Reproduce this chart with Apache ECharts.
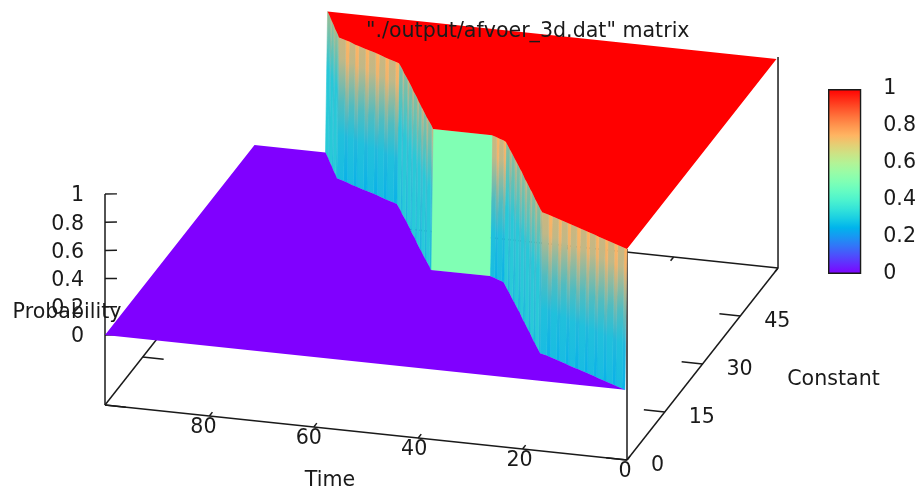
<!DOCTYPE html>
<html>
<head>
<meta charset="utf-8">
<style>html,body{margin:0;padding:0;background:#fff}#c{width:919px;height:491px}</style>
<script src="https://cdn.jsdelivr.net/npm/echarts@6/dist/echarts.min.js"></script>
</head>
<body>
<div id="c"></div>
<script>
// ---- chart values ----
const chartTitle = '"./output/afvoer_3d.dat" matrix';
const timeTicks = [0, 20, 40, 60, 80];
const constantTicks = [0, 15, 30, 45];
const probabilityTicks = [0, 0.2, 0.4, 0.6, 0.8, 1];
const timeMax = 100, constantMax = 60, surfaceConstantMax = 59.4, stepTime = 0.4;

// Where the surface jumps from 0 to 1: (Time, Constant) along the wall, section by section
const timeA = [0.4,1.1,2.6,3.4,4.9,5.6,7.1,7.8,9.3,10.0,11.5,12.3,13.8,14.5,16.0,16.7,18.2,19.0,20.5];
const constantA = [0,0.3,0.9,1.2,1.8,2.1,2.7,3.0,3.6,3.9,4.5,4.8,5.4,5.7,6.3,6.6,7.2,7.5,8.0];
const timeB = [20.5,21.3,22.8,23.6,25.1,25.9,27.4,28.2,29.7,30.5,32.0,32.8,34.3,35.1,36.7];
const constantB = [8,8.9,10.7,11.6,13.5,14.4,16.2,17.1,19,19.9,21.7,22.6,24.4,25.3,27.2];
const timeC = [36.7,37.3,38.4,39,40.1];
const constantC = [27.2,27.6,28,28.3,28.7];
const timeD = [40.1,51.4];
const constantD = [28.7,28.7];
const timeE = [51.4,52.1,53.6,54.3,55.7,56.5,57.9,58.6,60.1,60.8,62.2,62.9,64.4,65.1,66.6];
const constantE = [28.7,29.6,31.3,32.1,33.8,34.7,36.4,37.3,39,39.9,41.6,42.4,44.1,45,46.7];
const timeF = [66.6,67.4,69,69.8,71.3,72.1,73.7,74.5,76.1,76.9,78.4,79.2,80.8];
const constantF = [46.7,47,47.6,47.9,48.6,48.9,49.5,49.8,50.4,50.7,51.4,51.7,52.3];
const timeG = [80.8,81.4,82.7,83.3,84.5,85.1,86.4];
const constantG = [52.3,53.1,54.7,55.5,57,57.8,59.4];

// ---- styles ----
const FONT = '20.6px "DejaVu Sans"';
const INK = '#1a1a1a';
const palette = x => {
  const cl = v => Math.round(255 * Math.max(0, Math.min(1, v)));
  return 'rgb(' + cl(Math.abs(2 * x - 0.5)) + ',' + cl(Math.sin(Math.PI * x)) + ',' + cl(Math.cos(Math.PI * x / 2)) + ')';
};
const shallowShade = [
  [[0, '#ffb462'], [0.15, '#f0b46c'], [0.45, '#78b8ac'], [0.68, '#22b8dc'], [1, '#08b2e9']],
  [[0, '#cdb67e'], [0.15, '#c0b888'], [0.45, '#50bcc0'], [0.68, '#20c0dc'], [1, '#18bce2']]
];
const steepShade = [
  [[0, '#d0b47c'], [0.45, '#40bcd0'], [1, '#18b8e0']],
  [[0, '#90bc9a'], [0.45, '#28c8d8'], [1, '#28cad8']]
];
const endShade = [
  [[0, '#c8b880'], [0.4, '#40c0d0'], [1, '#20c0dc']],
  [[0, '#a0bc90'], [0.4, '#28c8d8'], [1, '#28cad8']]
];
const flatShade = [[[0, palette(0.5)], [1, palette(0.5)]]];

const sections = [
  [timeA, constantA, shallowShade], [timeB, constantB, steepShade], [timeC, constantC, shallowShade],
  [timeD, constantD, flatShade], [timeE, constantE, steepShade], [timeF, constantF, shallowShade],
  [timeG, constantG, endShade]
];

// ---- view: data space to plane ----
const floorZ = -0.496;
const project = (t, c, z) => [627 - 5.22 * t + 2.517 * c, 390 - 0.55 * t - 3.2 * c - 141 * z];

// ---- tables built from the arrays ----
const lines = [];
const addLine = (a, b) => lines.push([a, b]);
addLine([0, 0, floorZ], [timeMax, 0, floorZ]);
addLine([0, constantMax, floorZ], [timeMax, constantMax, floorZ]);
addLine([0, 0, floorZ], [0, constantMax, floorZ]);
addLine([timeMax, 0, floorZ], [timeMax, constantMax, floorZ]);
addLine([0, 0, floorZ], [0, 0, 1]);
addLine([timeMax, 0, floorZ], [timeMax, 0, 1]);
addLine([0, constantMax, floorZ], [0, constantMax, 1]);
timeTicks.forEach(t => {
  addLine([t, 0, floorZ], [t, 1.2, floorZ]);
  addLine([t, constantMax, floorZ], [t, constantMax - 1.2, floorZ]);
});
constantTicks.forEach(c => {
  addLine([0, c, floorZ], [4, c, floorZ]);
  addLine([timeMax, c, floorZ], [timeMax - 4, c, floorZ]);
});
probabilityTicks.forEach(p => addLine([timeMax, 0, p], [timeMax - 2.1, 0.4, p]));

const stripes = [];
sections.forEach(([ts, cs, shade]) => {
  for (let i = 0; i + 1 < ts.length; i++) {
    stripes.push({ t0: ts[i], c0: cs[i], t1: ts[i + 1], c1: cs[i + 1], stops: shade[i % shade.length] });
  }
});

const wallTime = [].concat(timeA, timeB.slice(1), timeC.slice(1), timeD.slice(1), timeE.slice(1), timeF.slice(1), timeG.slice(1));
const wallConstant = [].concat(constantA, constantB.slice(1), constantC.slice(1), constantD.slice(1), constantE.slice(1), constantF.slice(1), constantG.slice(1));
const floorOutline = [[timeMax, 0], ...wallTime.map((t, i) => [t, wallConstant[i]]), [timeMax, surfaceConstantMax]];
const topOutline = [...wallTime.map((t, i) => [t - stepTime, wallConstant[i]]), [0, surfaceConstantMax]];

const texts = [];
timeTicks.forEach(t => { const p = project(t, 0, floorZ); texts.push({ x: p[0] - 2 - t * 0.05, y: p[1] + 11.5, text: String(t), align: 'center' }); });
constantTicks.forEach(c => { const p = project(0, c, floorZ); texts.push({ x: p[0] + 24, y: p[1] + 6, text: String(c), align: 'left' }); });
probabilityTicks.forEach(v => { const p = project(timeMax, 0, v); texts.push({ x: p[0] - 21, y: p[1] + 2, text: String(v), align: 'right' }); });
texts.push({ x: 67, y: 312.5, text: 'Probability', align: 'center' });
texts.push({ x: 330, y: 480.5, text: 'Time', align: 'center' });
texts.push({ x: 833.5, y: 379.5, text: 'Constant', align: 'center' });

// ---- helpers ----
const plane = (api, t, c, z) => { const p = project(t, c, z); return api.coord([p[0], p[1]]); };
const rows = table => table.map((_, i) => [i, 0]);
const base = { type: 'custom', xAxisIndex: 0, yAxisIndex: 0, silent: true, clip: false };

const chart = echarts.init(document.getElementById('c'), null, { renderer: 'canvas' });
chart.setOption({
  animation: false,
  title: { text: chartTitle, left: 366, top: 21, padding: 0, textStyle: { fontFamily: 'DejaVu Sans', fontSize: 20.6, fontWeight: 'normal', color: INK } },
  grid: [
    { left: 0, top: 0, right: 0, bottom: 0 },
    { left: 828, top: 89, width: 36.5, height: 185 }
  ],
  xAxis: [
    { type: 'value', gridIndex: 0, min: 0, max: 919, show: false },
    { type: 'category', gridIndex: 1, data: ['cb'], show: false }
  ],
  yAxis: [
    { type: 'value', gridIndex: 0, min: 0, max: 491, inverse: true, show: false },
    { type: 'value', gridIndex: 1, min: 0, max: 1, interval: 0.2, position: 'right', splitLine: { show: false },
      axisLine: { show: false }, axisTick: { inside: true, length: 12, lineStyle: { color: INK, width: 1.4 } },
      axisLabel: { margin: 22, fontFamily: 'DejaVu Sans', fontSize: 20.6, color: INK } },
    { type: 'value', gridIndex: 1, min: 0, max: 1, interval: 0.2, position: 'left', splitLine: { show: false },
      axisLine: { show: false }, axisTick: { inside: true, length: 12, lineStyle: { color: INK, width: 1.4 } },
      axisLabel: { show: false } }
  ],
  series: [
    Object.assign({}, base, { data: rows(lines), z: 1, renderItem(params, api) {
      const l = lines[api.value(0)];
      const a = plane(api, ...l[0]), b = plane(api, ...l[1]);
      return { type: 'line', shape: { x1: a[0], y1: a[1], x2: b[0], y2: b[1] }, style: { stroke: INK, lineWidth: 1.5 } };
    } }),
    Object.assign({}, base, { data: rows(stripes), z: 2, renderItem(params, api) {
      const s = stripes[api.value(0)];
      const pts = [plane(api, s.t0, s.c0, 0), plane(api, s.t1, s.c1, 0), plane(api, s.t1 - stepTime, s.c1, 1), plane(api, s.t0 - stepTime, s.c0, 1)];
      const grad = new echarts.graphic.LinearGradient(0, 0, 0, 1, s.stops.map(d => ({ offset: d[0], color: d[1] })));
      return { type: 'polygon', shape: { points: pts }, style: { fill: grad, stroke: grad, lineWidth: 0.6 } };
    } }),
    Object.assign({}, base, { data: [[0, 0]], z: 3, renderItem(params, api) {
      return { type: 'polygon', shape: { points: floorOutline.map(p => plane(api, p[0], p[1], 0)) }, style: { fill: palette(0) } };
    } }),
    Object.assign({}, base, { data: [[0, 0]], z: 3, renderItem(params, api) {
      return { type: 'polygon', shape: { points: [[0, 0], ...topOutline].map(p => plane(api, p[0], p[1], 1)) }, style: { fill: palette(1) } };
    } }),
    Object.assign({}, base, { data: rows(texts), z: 5, renderItem(params, api) {
      const t = texts[api.value(0)];
      const p = api.coord([t.x, t.y]);
      return { type: 'text', style: { x: p[0], y: p[1], text: t.text, font: FONT, fill: INK, align: t.align, verticalAlign: 'middle' } };
    } }),
    { type: 'bar', xAxisIndex: 1, yAxisIndex: 1, data: [1], barWidth: '100%', silent: true, z: 1,
      itemStyle: { borderColor: INK, borderWidth: 1.4,
        color: new echarts.graphic.LinearGradient(0, 1, 0, 0, Array.from({ length: 21 }, (_, i) => ({ offset: i / 20, color: palette(i / 20) }))) } }
  ]
});
</script>
</body>
</html>
